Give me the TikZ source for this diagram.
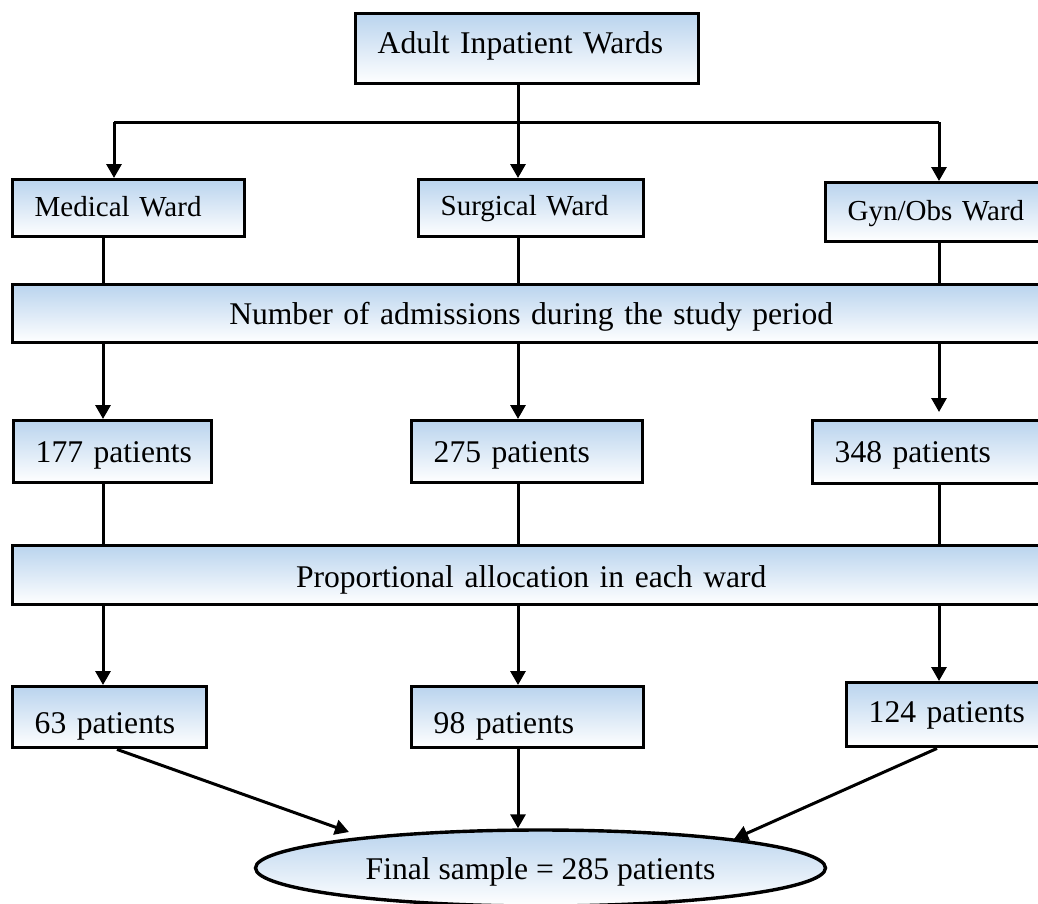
\documentclass[tikz,border=0pt]{standalone}
\usepackage{fontspec}
\setmainfont{Liberation Serif}
\usetikzlibrary{arrows.meta,shapes.geometric}
\definecolor{gtop}{RGB}{186,212,238}
\tikzset{
  box/.style={draw, line width=3.4pt, top color=gtop, bottom color=white,
    inner ysep=0pt, inner xsep=22pt, anchor=north west, text depth=5pt,
    font=\fontsize{31.6}{38}\selectfont},
  wardfont/.style={font=\fontsize{29}{35}\selectfont},
  conn/.style={line width=3pt},
  arr/.style={line width=3pt, -{Triangle[length=14pt,width=15pt]}},
  finalnode/.style={ellipse, draw, line width=3.4pt, top color=gtop, bottom color=white,
    inner sep=0pt, minimum width=570pt, minimum height=76pt, text depth=5pt,
    font=\fontsize{31.6}{38}\selectfont}
}
\begin{document}
\begin{tikzpicture}[x=1pt,y=-1pt]
\useasboundingbox (0,0) rectangle (1038,903);
\clip (0,0) rectangle (1038,903);
\fill[white] (0,0) rectangle (1038,903);

% boxes
\node[box, text width=299pt, minimum width=343pt, minimum height=70pt, text height=15pt, align=left] (top) at (354,12) {\mbox{Adult Inpatient Wards}};

\node[box, wardfont, text width=188pt, minimum width=232pt, minimum height=57pt, text height=22pt, align=left] (medical) at (11,178) {\mbox{Medical Ward}};
\node[box, wardfont, text width=181pt, minimum width=225pt, minimum height=57pt, text height=19pt, align=left] (surgical) at (417,178) {\mbox{Surgical Ward}};
\node[box, wardfont, text width=190pt, minimum width=234pt, minimum height=59pt, text height=22pt, align=left] (gyn) at (824,181) {\mbox{Gyn/Obs Ward}};

\node[box, text width=993pt, minimum width=1037pt, minimum height=58pt, text height=27pt, align=center] (number) at (11,283) {Number of admissions during the study period};

\node[box, text width=154pt, minimum width=198pt, minimum height=62pt, text height=27pt, align=left] (p177) at (12,419) {\mbox{177 patients}};
\node[box, text width=187pt, minimum width=231pt, minimum height=62pt, text height=27pt, align=left] (p275) at (410,419) {\mbox{275 patients}};
\node[box, text width=195pt, minimum width=239pt, minimum height=63pt, text height=26pt, align=left] (p348) at (811,419) {\mbox{348 patients}};

\node[box, text width=993pt, minimum width=1037pt, minimum height=59pt, text height=30pt, align=center] (prop) at (11,544) {Proportional allocation in each ward};

\node[box, text width=150pt, minimum width=194pt, minimum height=61pt, text height=37pt, align=left] (n63) at (11,685) {\mbox{63 patients}};
\node[box, text width=188pt, minimum width=232pt, minimum height=61pt, text height=37pt, align=left] (n98) at (410,685) {\mbox{98 patients}};
\node[box, text width=161pt, minimum width=205pt, minimum height=64pt, text height=20pt, align=left] (n124) at (845,681) {\mbox{124 patients}};

\node[finalnode, text height=27.6pt] (final) at (540.5,868) {Final sample = 285 patients};

% helper coordinates
\coordinate (jL) at (114,122);
\coordinate (jC) at (518,122);
\coordinate (jR) at (939,122);
\coordinate (cL) at (103,0);
\coordinate (cC) at (518,0);
\coordinate (cR) at (939,0);
\coordinate (dL) at (117,0);
\coordinate (dR) at (937,0);
\coordinate (tipL) at (349,832);
\coordinate (tipR) at (734,839);

% connectors
\draw[conn] (top.south -| jC) -- (jC);
\draw[conn] (jL) -- (jR);
\draw[arr] (jL) -- (jL |- medical.north);
\draw[arr] (jC) -- (jC |- surgical.north);
\draw[arr] (jR) -- (jR |- gyn.north);

\draw[conn] (medical.south -| cL) -- (number.north -| cL);
\draw[conn] (surgical.south -| cC) -- (number.north -| cC);
\draw[conn] (gyn.south -| cR) -- (number.north -| cR);

\draw[arr] (number.south -| cL) -- (p177.north -| cL);
\draw[arr] (number.south -| cC) -- (p275.north -| cC);
\draw[arr, shorten >=7pt] (number.south -| cR) -- (p348.north -| cR);

\draw[conn] (p177.south -| cL) -- (prop.north -| cL);
\draw[conn] (p275.south -| cC) -- (prop.north -| cC);
\draw[conn] (p348.south -| cR) -- (prop.north -| cR);

\draw[arr] (prop.south -| cL) -- (n63.north -| cL);
\draw[arr] (prop.south -| cC) -- (n98.north -| cC);
\draw[arr] (prop.south -| cR) -- (n124.north -| cR);

\draw[arr] (n63.south -| dL) -- (tipL);
\draw[arr] (n98.south -| cC) -- (final.north -| cC);
\draw[arr] (n124.south -| dR) -- (tipR);
\end{tikzpicture}
\end{document}
